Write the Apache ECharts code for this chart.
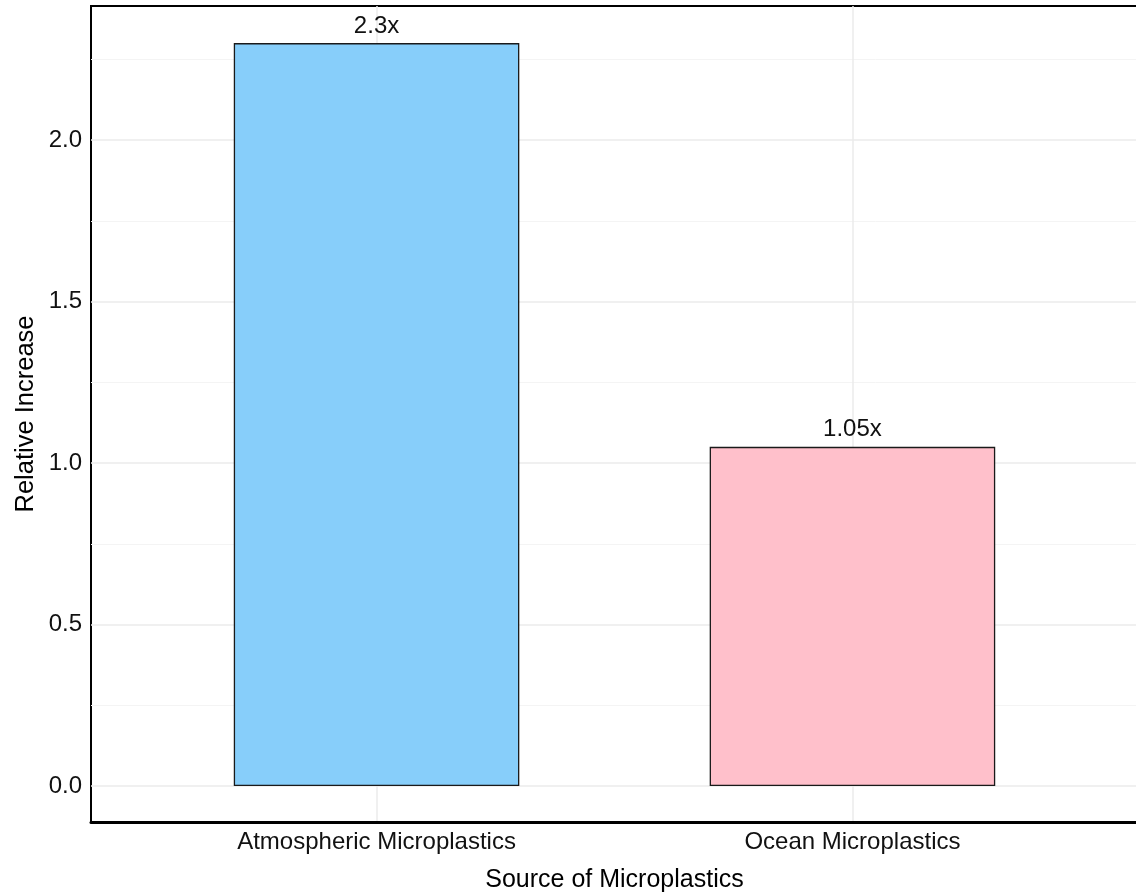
<!DOCTYPE html>
<html>
<head>
<meta charset="utf-8">
<title>Source of Microplastics</title>
<script src="https://cdn.jsdelivr.net/npm/echarts@6/dist/echarts.min.js"></script>
<style>
  html, body { margin: 0; padding: 0; background: #ffffff; }
  #chart { width: 1136px; height: 894px; }
</style>
</head>
<body>
<div id="chart"></div>
<script>
// Sources and their relative increase
const categories = ['Atmospheric Microplastics', 'Ocean Microplastics'];
const increases = [2.3, 1.05];
const barColors = ['#87CEFA', '#FFC0CB'];
const yTicks = [0, 0.5, 1, 1.5, 2];

const FONT = "'Liberation Sans', Arial, sans-serif";
const positions = categories.map((_, i) => i + 1);

const chart = echarts.init(document.getElementById('chart'), null, { renderer: 'canvas' });

chart.setOption({
  backgroundColor: '#ffffff',
  animation: false,
  textStyle: { fontFamily: FONT },
  grid: [
    // panel with frame, vertical grid lines and category labels
    { left: 91, right: -2, top: 6, bottom: 72, show: true, borderColor: '#000000', borderWidth: 2,
      backgroundColor: 'transparent', containLabel: false, outerBoundsMode: 'none' },
    // value scale for the bars
    { left: 91, right: -2, top: -21.5, bottom: 108, containLabel: false, outerBoundsMode: 'none' }
  ],
  xAxis: [
    {
      gridIndex: 0, type: 'value', min: 0.4, max: 2.6,
      axisLine: { show: true, lineStyle: { color: '#000000', width: 3 } },
      axisTick: { show: false, customValues: positions },
      axisLabel: {
        customValues: positions,
        formatter: v => categories[Math.round(v) - 1] || '',
        fontSize: 24, color: '#111111', margin: 8, fontFamily: FONT
      },
      splitLine: { show: true, lineStyle: { color: '#EBEBEB', width: 1.5 } },
      name: 'Source of Microplastics', nameLocation: 'middle', nameGap: 46,
      nameTextStyle: { fontSize: 25, color: '#000000', fontFamily: FONT }
    },
    { gridIndex: 1, type: 'value', min: 0.4, max: 2.6, show: false }
  ],
  yAxis: [
    {
      gridIndex: 0, type: 'value', min: 0, max: 1,
      axisLine: { show: false }, axisTick: { show: false },
      axisLabel: { show: false }, splitLine: { show: false },
      name: 'Relative Increase', nameLocation: 'middle', nameGap: 52,
      nameTextStyle: { fontSize: 25.5, color: '#000000', fontFamily: FONT }
    },
    {
      gridIndex: 1, type: 'value', min: 0, max: 2.5, interval: 0.5,
      axisLine: { show: false }, axisTick: { show: false },
      axisLabel: {
        formatter: v => (yTicks.indexOf(v) >= 0 ? v.toFixed(1) : ''),
        fontSize: 24, color: '#111111', margin: 9, fontFamily: FONT
      },
      splitLine: { show: true, lineStyle: { color: '#EBEBEB', width: 1.5 } },
      minorTick: { show: false, splitNumber: 2 },
      minorSplitLine: { show: true, lineStyle: { color: '#F4F4F4', width: 1 } }
    }
  ],
  series: [
    {
      type: 'bar',
      xAxisIndex: 1, yAxisIndex: 1,
      barWidth: '60%',
      z: 3,
      data: increases.map((v, i) => ({
        value: [positions[i], v],
        itemStyle: { color: barColors[i], borderColor: '#1a1a1a', borderWidth: 1.3 }
      })),
      label: {
        show: true, position: 'top', distance: 5,
        formatter: p => p.value[1] + 'x',
        fontSize: 24, color: '#111111', fontFamily: FONT
      }
    }
  ]
});
</script>
</body>
</html>
